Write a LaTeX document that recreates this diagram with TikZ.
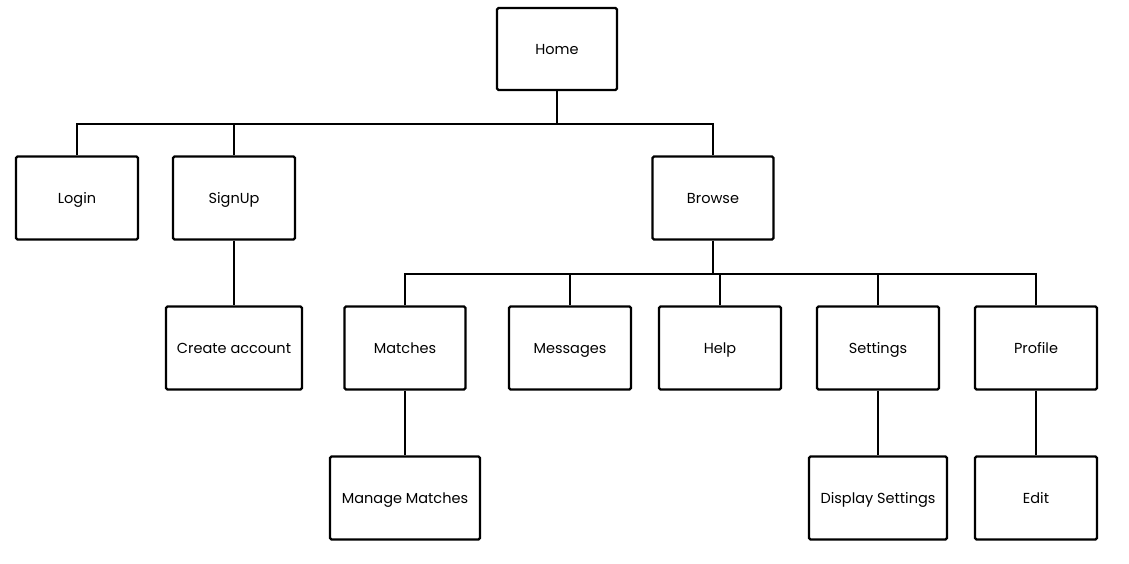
\documentclass[tikz,border=0pt]{standalone}
\usepackage{fontspec}
\setmainfont{Poppins}
\begin{document}
\begin{tikzpicture}[x=1pt,y=-1pt,
  box/.style={draw=black,line width=2.4pt,fill=white,rounded corners=1.5pt,font=\fontsize{14.5}{16}\selectfont,inner sep=0pt,text height=10.5pt,text depth=0pt},
  conn/.style={draw=black,line width=2pt}]
\useasboundingbox (0,0) rectangle (1129,564);
\node[box,minimum width=120,minimum height=82] (home) at (557,49) {Home};
\node[box,minimum width=122,minimum height=83] (login) at (77,198) {Login};
\node[box,minimum width=122,minimum height=83] (signup) at (234,198) {SignUp};
\node[box,minimum width=121,minimum height=83] (browse) at (713,198) {Browse};
\node[box,minimum width=136,minimum height=83] (create) at (234,348) {Create account};
\node[box,minimum width=121,minimum height=83] (matches) at (405,348) {Matches};
\node[box,minimum width=122,minimum height=83] (messages) at (570,348) {Messages};
\node[box,minimum width=122,minimum height=83] (help) at (720,348) {Help};
\node[box,minimum width=122,minimum height=83] (settings) at (878,348) {Settings};
\node[box,minimum width=122,minimum height=83] (profile) at (1036,348) {Profile};
\node[box,minimum width=150,minimum height=83] (manage) at (405,498) {Manage Matches};
\node[box,minimum width=138,minimum height=83] (display) at (878,498) {Display Settings};
\node[box,minimum width=122,minimum height=83] (edit) at (1036,498) {Edit};
\coordinate (b1) at (557,124);
\coordinate (b2) at (713,274);
\draw[conn] (home.south) -- (b1);
\draw[conn] (login.north) |- (b1);
\draw[conn] (signup.north) |- (b1);
\draw[conn] (browse.north) |- (b1);
\draw[conn] (signup.south) -- (create.north);
\draw[conn] (browse.south) -- (b2);
\draw[conn] (matches.north) |- (b2);
\draw[conn] (messages.north) |- (b2);
\draw[conn] (help.north) |- (b2);
\draw[conn] (settings.north) |- (b2);
\draw[conn] (profile.north) |- (b2);
\draw[conn] (matches.south) -- (manage.north);
\draw[conn] (settings.south) -- (display.north);
\draw[conn] (profile.south) -- (edit.north);
\end{tikzpicture}
\end{document}
